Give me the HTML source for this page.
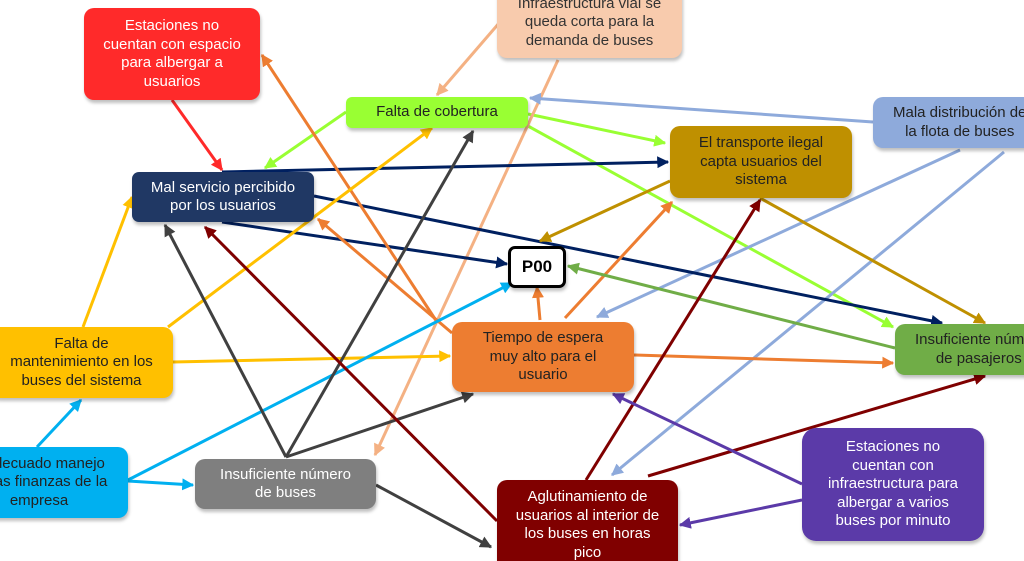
<!DOCTYPE html>
<html><head><meta charset="utf-8"><style>
html,body{margin:0;width:1024px;height:561px;overflow:hidden}
body{background:#fff;position:relative;font-family:"Liberation Sans",sans-serif}
svg{position:absolute;left:0;top:0}
.b{position:absolute;border-radius:10px;display:flex;align-items:center;justify-content:center;text-align:center;font-size:15px;line-height:18.5px;box-shadow:1px 3px 3px rgba(0,0,0,.25);box-sizing:border-box;padding:0;white-space:nowrap}
</style></head><body>
<svg width="1024" height="561" viewBox="0 0 1024 561">
<defs>
<marker id="m" viewBox="0 0 10 10" refX="9" refY="5" markerWidth="4" markerHeight="4" orient="auto-start-reverse" markerUnits="strokeWidth"><path d="M0,0L10,5L0,10z" fill="context-stroke"/></marker>
</defs>
<g fill="none" stroke-width="3" marker-end="url(#m)">
<path d="M172,100L222,170" stroke="#ff2a2a"/>
<path d="M346,112L265,168" stroke="#99ff33"/>
<path d="M528,114L665,143" stroke="#99ff33"/>
<path d="M528,126L893,327" stroke="#99ff33"/>
<path d="M558,60L375,455" stroke="#f4b183"/>
<path d="M500,22L437,95" stroke="#f4b183"/>
<path d="M873,122L530,98" stroke="#8eaadb"/>
<path d="M960,150L597,317" stroke="#8eaadb"/>
<path d="M1004,152L612,475" stroke="#8eaadb"/>
<path d="M222,172L668,162" stroke="#002060"/>
<path d="M314,196L942,323" stroke="#002060"/>
<path d="M222,222L507,264" stroke="#002060"/>
<path d="M670,181L540,241" stroke="#bf9000"/>
<path d="M760,198L985,323" stroke="#bf9000"/>
<path d="M437,322L262,55" stroke="#ed7d31"/>
<path d="M452,333L318,219" stroke="#ed7d31"/>
<path d="M540,320L537,287" stroke="#ed7d31"/>
<path d="M565,318L672,202" stroke="#ed7d31"/>
<path d="M634,355L893,363" stroke="#ed7d31"/>
<path d="M895,348L568,266" stroke="#70ad47"/>
<path d="M83,327L132,197" stroke="#ffc000"/>
<path d="M168,327L432,128" stroke="#ffc000"/>
<path d="M173,362L450,356" stroke="#ffc000"/>
<path d="M37,447L81,400" stroke="#00b0f0"/>
<path d="M128,480L512,283" stroke="#00b0f0"/>
<path d="M128,481L193,485" stroke="#00b0f0"/>
<path d="M286,457L165,225" stroke="#404040"/>
<path d="M286,457L473,131" stroke="#404040"/>
<path d="M286,457L473,394" stroke="#404040"/>
<path d="M376,485L491,547" stroke="#404040"/>
<path d="M497,521L205,227" stroke="#7f0000"/>
<path d="M586,480L760,200" stroke="#7f0000"/>
<path d="M648,476L985,376" stroke="#7f0000"/>
<path d="M802,484L613,394" stroke="#5b3aa8"/>
<path d="M802,500L680,525" stroke="#5b3aa8"/>
</g>
</svg>
<div class="b" style="left:84px;top:8px;width:176px;height:92px;background:#ff2a2a;color:#fff">Estaciones no<br>cuentan con espacio<br>para albergar a<br>usuarios</div>
<div class="b" style="left:497px;top:-20px;width:185px;height:78px;background:#f8cbad;color:#333;align-items:flex-end;padding-bottom:8px">Infraestructura vial se<br>queda corta para la<br>demanda de buses</div>
<div class="b" style="left:346px;top:97px;width:182px;height:31px;background:#99ff33;color:#222;border-radius:6px">Falta de cobertura</div>
<div class="b" style="left:132px;top:172px;width:182px;height:50px;background:#203864;color:#fff;border-radius:7px">Mal servicio percibido<br>por los usuarios</div>
<div class="b" style="left:670px;top:126px;width:182px;height:72px;background:#bf9000;color:#222">El transporte ilegal<br>capta usuarios del<br>sistema</div>
<div class="b" style="left:873px;top:97px;width:170px;height:51px;background:#8eaadb;color:#222;justify-content:flex-start;padding-left:20px">Mala distribución de<br>la flota de buses</div>
<div class="b" style="left:508px;top:246px;width:58px;height:42px;background:#fff;border:3px solid #000;border-radius:7px;font-weight:bold;font-size:17px;color:#000">P00</div>
<div class="b" style="left:452px;top:322px;width:182px;height:70px;background:#ed7d31;color:#222">Tiempo de espera<br>muy alto para el<br>usuario</div>
<div class="b" style="left:895px;top:324px;width:150px;height:51px;background:#70ad47;color:#222;justify-content:flex-start;padding-left:20px;text-align:left">Insuficiente número<br>&nbsp;&nbsp;&nbsp;&nbsp;&nbsp;de pasajeros</div>
<div class="b" style="left:-10px;top:327px;width:183px;height:71px;background:#ffc000;color:#222">Falta de<br>mantenimiento en los<br>buses del sistema</div>
<div class="b" style="left:-50px;top:447px;width:178px;height:71px;background:#00b0f0;color:#222">Inadecuado manejo<br>de las finanzas de la<br>empresa</div>
<div class="b" style="left:195px;top:459px;width:181px;height:50px;background:#7f7f7f;color:#fff">Insuficiente número<br>de buses</div>
<div class="b" style="left:497px;top:480px;width:181px;height:92px;background:#800000;color:#fff;align-items:flex-start;padding-top:8px">Aglutinamiento de<br>usuarios al interior de<br>los buses en horas<br>pico</div>
<div class="b" style="left:802px;top:428px;width:182px;height:113px;background:#5b3aa8;color:#fff;border-radius:14px">Estaciones no<br>cuentan con<br>infraestructura para<br>albergar a varios<br>buses por minuto</div>
</body></html>
